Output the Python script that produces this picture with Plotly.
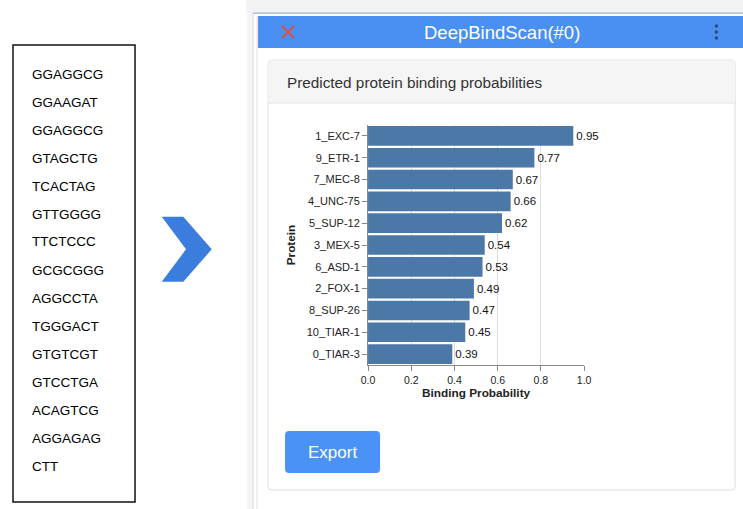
import plotly.graph_objects as go

W, H = 743, 509

proteins = ["1_EXC-7", "9_ETR-1", "7_MEC-8", "4_UNC-75", "5_SUP-12", "3_MEX-5",
            "6_ASD-1", "2_FOX-1", "8_SUP-26", "10_TIAR-1", "0_TIAR-3"]
probabilities = [0.95, 0.77, 0.67, 0.66, 0.62, 0.54, 0.53, 0.49, 0.47, 0.45, 0.39]
prob_labels = ["0.95", "0.77", "0.67", "0.66", "0.62", "0.54", "0.53", "0.49", "0.47", "0.45", "0.39"]
sequence_lines = ["GGAGGCG", "GGAAGAT", "GGAGGCG", "GTAGCTG", "TCACTAG", "GTTGGGG",
                  "TTCTCCC", "GCGCGGG", "AGGCCTA", "TGGGACT", "GTGTCGT", "GTCCTGA",
                  "ACAGTCG", "AGGAGAG", "CTT"]
x_ticks = [0.0, 0.2, 0.4, 0.6, 0.8, 1.0]
x_tick_labels = ["0.0", "0.2", "0.4", "0.6", "0.8", "1.0"]

FONT = "Liberation Sans, Arial, Helvetica, sans-serif"


def px(x):
    # map a target screen x to paper fraction (compensates the viewer's horizontal fit)
    return ((x - 7) / 0.981) / W


def py(y):
    return 1 - y / H


def rrect(x0, y0, x1, y1, r):
    X0, X1 = px(x0), px(x1)
    Y0, Y1 = py(y0), py(y1)
    rx, ry = r / W, r / H
    return (f"M {X0+rx},{Y0} L {X1-rx},{Y0} Q {X1},{Y0} {X1},{Y0-ry} "
            f"L {X1},{Y1+ry} Q {X1},{Y1} {X1-rx},{Y1} L {X0+rx},{Y1} "
            f"Q {X0},{Y1} {X0},{Y1+ry} L {X0},{Y0-ry} Q {X0},{Y0} {X0+rx},{Y0} Z")


fig = go.Figure()
fig.add_trace(go.Bar(
    x=probabilities, y=proteins, orientation="h",
    marker=dict(color="#4c78a8", line=dict(width=0)),
    width=0.9,
    text=prob_labels, textposition="outside", cliponaxis=False,
    textfont=dict(family=FONT, size=11.5, color="#111"),
    hoverinfo="skip",
))

shapes = []
# backdrop above / left of the panel
shapes.append(dict(type="rect", xref="paper", yref="paper", x0=px(246), x1=px(790),
                   y0=py(13), y1=py(-5), fillcolor="#f3f3f3", line=dict(width=0), layer="below"))
shapes.append(dict(type="rect", xref="paper", yref="paper", x0=px(247), x1=px(253),
                   y0=py(520), y1=py(13), fillcolor="#f5f5f5", line=dict(width=0), layer="below"))
# panel
shapes.append(dict(type="rect", xref="paper", yref="paper", x0=px(253), x1=px(790),
                   y0=py(520), y1=py(13.5), fillcolor="white",
                   line=dict(color="#d6d6d6", width=1), layer="below"))
shapes.append(dict(type="line", xref="paper", yref="paper", x0=px(257), x1=px(257),
                   y0=py(520), y1=py(16), line=dict(color="#e2e2e2", width=1), layer="below"))
shapes.append(dict(type="line", xref="paper", yref="paper", x0=px(253), x1=px(790),
                   y0=py(13), y1=py(13), line=dict(color="#8fb3e8", width=1), layer="below"))
# header bar
shapes.append(dict(type="rect", xref="paper", yref="paper", x0=px(258), x1=px(790),
                   y0=py(48), y1=py(16), fillcolor="#4a8ff2", line=dict(width=0), layer="below"))
# card
shapes.append(dict(type="path", xref="paper", yref="paper", path=rrect(268, 60, 735, 490, 4),
                   fillcolor="white", line=dict(color="#dedede", width=1), layer="below"))
shapes.append(dict(type="path", xref="paper", yref="paper", path=rrect(268.5, 60.5, 734.5, 103, 3),
                   fillcolor="#f5f5f5", line=dict(width=0), layer="below"))
shapes.append(dict(type="line", xref="paper", yref="paper", x0=px(268.5), x1=px(734.5),
                   y0=py(103), y1=py(103), line=dict(color="#e3e3e3", width=1), layer="below"))
# export button
shapes.append(dict(type="path", xref="paper", yref="paper", path=rrect(285, 431, 380, 473, 4),
                   fillcolor="#4b92f6", line=dict(width=0), layer="below"))
# sequence box
shapes.append(dict(type="rect", xref="paper", yref="paper", x0=px(13), x1=px(135),
                   y0=py(502), y1=py(45), fillcolor="white",
                   line=dict(color="#111", width=1.5), layer="below"))
# chevron arrow
pts = [(161.7, 216.7), (183.3, 216.7), (211.7, 249.3), (183.3, 281.7), (161.7, 281.7), (186, 249.3)]
path = "M " + " L ".join(f"{px(a)},{py(b)}" for a, b in pts) + " Z"
shapes.append(dict(type="path", xref="paper", yref="paper", path=path,
                   fillcolor="#3b7ddd", line=dict(width=0), layer="below"))
# red X
for (a, b, c, d) in [(282, 26, 294, 38), (282, 38, 294, 26)]:
    shapes.append(dict(type="line", xref="paper", yref="paper", x0=px(a), y0=py(b),
                       x1=px(c), y1=py(d), line=dict(color="#d9534f", width=2)))
# kebab dots
for yy in [26, 32, 38]:
    shapes.append(dict(type="circle", xref="paper", yref="paper", x0=px(714.5), x1=px(718),
                       y0=py(yy + 1.7), y1=py(yy - 1.7), fillcolor="#2b4a7a", line=dict(width=0)))

annotations = []
annotations.append(dict(text="DeepBindScan(#0)", x=px(502), y=py(33), xref="paper", yref="paper",
                        showarrow=False, font=dict(family=FONT, size=18.5, color="white"),
                        xanchor="center", yanchor="middle"))
annotations.append(dict(text="Predicted protein binding probabilities", x=px(285), y=py(82),
                        xref="paper", yref="paper", showarrow=False,
                        font=dict(family=FONT, size=15.3, color="#333"),
                        xanchor="left", yanchor="middle"))
annotations.append(dict(text="Export", x=px(332.5), y=py(452), xref="paper", yref="paper",
                        showarrow=False, font=dict(family=FONT, size=17, color="white"),
                        xanchor="center", yanchor="middle"))
for i, s in enumerate(sequence_lines):
    annotations.append(dict(text=s, x=px(30), y=py(74 + 28 * i), xref="paper", yref="paper",
                            showarrow=False, font=dict(family=FONT, size=13.5, color="#000"),
                            xanchor="left", yanchor="middle"))

fig.update_layout(
    width=W, height=H,
    margin=dict(l=0, r=0, t=0, b=0),
    paper_bgcolor="white", plot_bgcolor="white",
    showlegend=False,
    font=dict(family=FONT, color="#222"),
    shapes=shapes, annotations=annotations,
    bargap=0.1,
    xaxis=dict(domain=[px(368), px(584)], range=[0, 1], tickvals=x_ticks, ticktext=x_tick_labels,
               showgrid=True, gridcolor="#dddddd", gridwidth=1,
               showline=True, linecolor="#888", linewidth=1,
               ticks="outside", ticklen=5, tickcolor="#888",
               tickfont=dict(family=FONT, size=10.5, color="#222"),
               zeroline=False, fixedrange=True,
               title=dict(text="Binding Probability", standoff=3,
                          font=dict(family=FONT, size=11.8, color="#222", weight="bold")),
               anchor="y"),
    yaxis=dict(domain=[py(365), py(125)], type="category", categoryorder="array",
               categoryarray=proteins, range=[10.5, -0.5],
               showline=True, linecolor="#888", linewidth=1,
               ticks="outside", ticklen=5, tickcolor="#888",
               tickfont=dict(family=FONT, size=11, color="#222"),
               showgrid=False, zeroline=False, fixedrange=True,
               title=dict(text="Protein", standoff=8,
                          font=dict(family=FONT, size=11.8, color="#222", weight="bold")),
               anchor="x"),
)

fig.write_html("out.html", config={"displayModeBar": False, "responsive": False},
               post_script="document.body.style.margin='0';document.body.style.overflow='hidden';")
